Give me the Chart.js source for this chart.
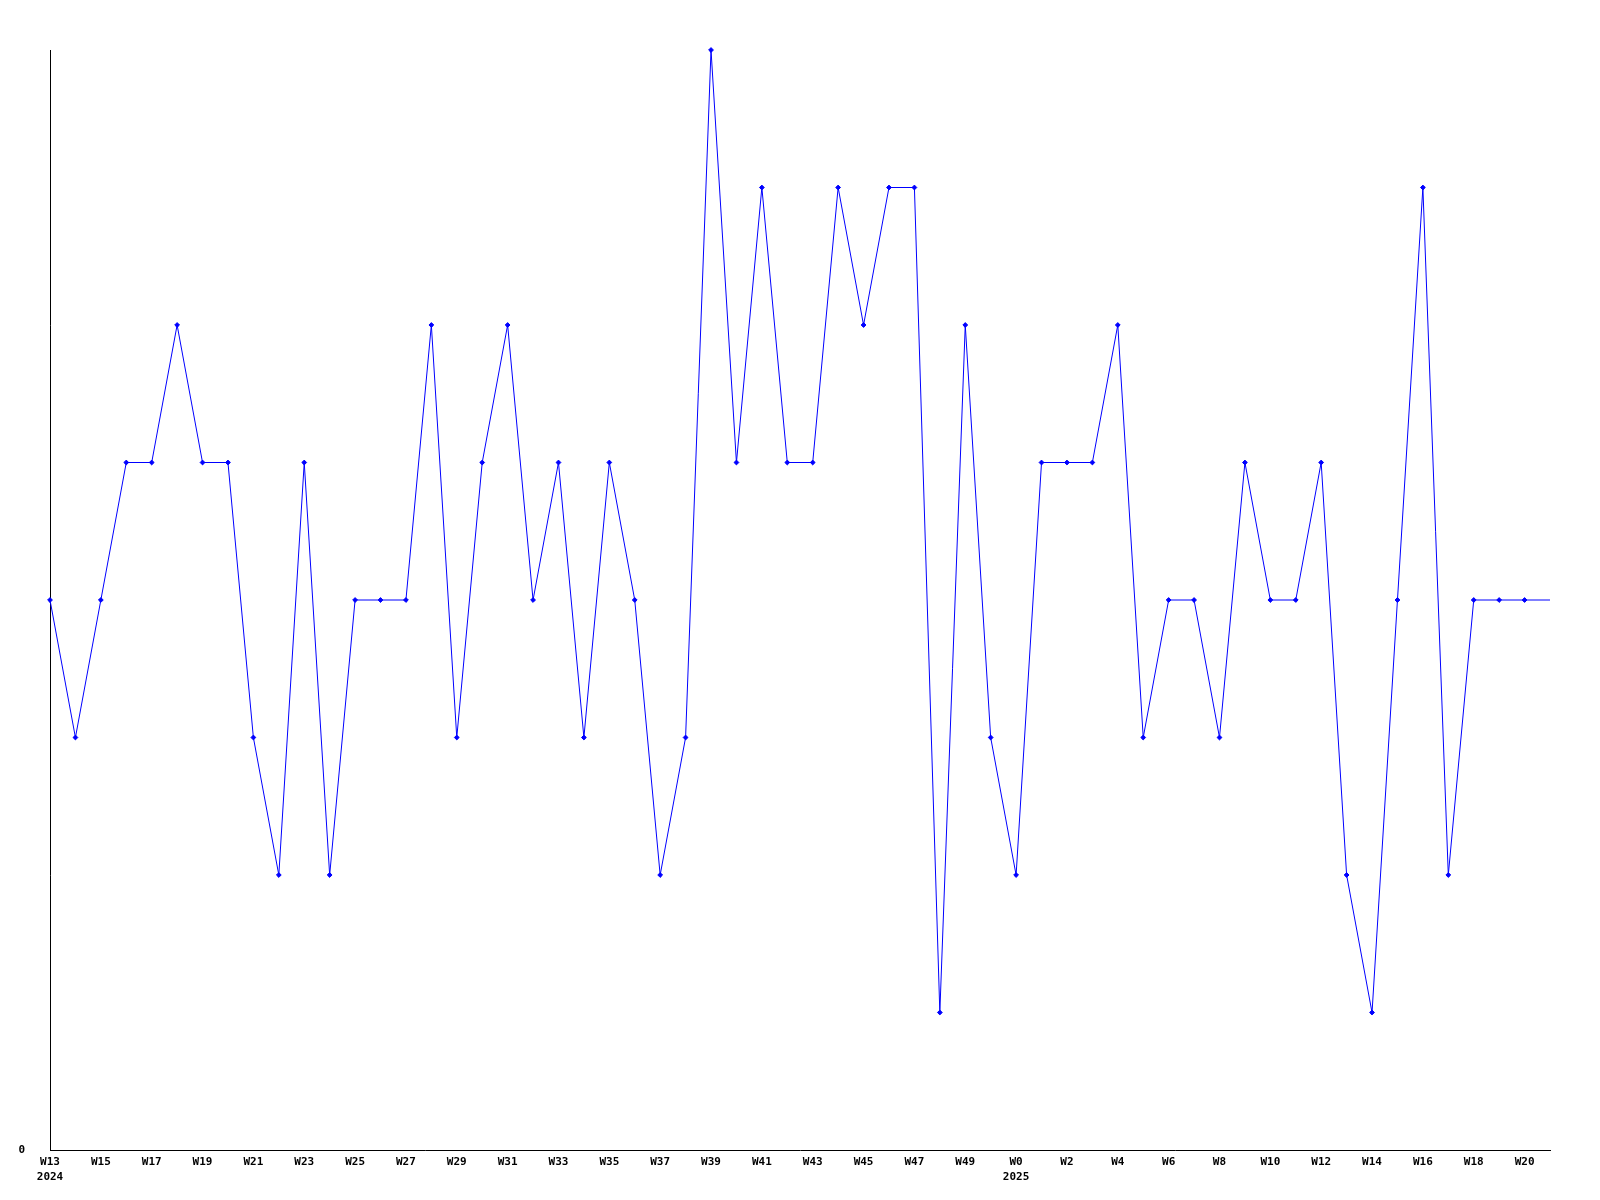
<!DOCTYPE html>
<html>
<head>
<meta charset="utf-8">
<script src="https://cdn.jsdelivr.net/npm/chart.js@4"></script>
<style>
  html, body { margin: 0; padding: 0; background: #fff; }
  #wrap { width: 1600px; height: 1200px; }
</style>
</head>
<body>
<div id="wrap"><canvas id="weekly"></canvas></div>
<script>
// weeks 2024 W13..W50, then 2025 W0..W21
const weeks = ['W13','W14','W15','W16','W17','W18','W19','W20','W21','W22','W23','W24','W25','W26','W27','W28','W29','W30','W31','W32','W33','W34','W35','W36','W37','W38','W39','W40','W41','W42','W43','W44','W45','W46','W47','W48','W49','W50',
  'W0','W1','W2','W3','W4','W5','W6','W7','W8','W9','W10','W11','W12','W13','W14','W15','W16','W17','W18','W19','W20','W21'];
const years = { 0: '2024', 38: '2025' };
const counts = [4,3,4,5,5,6,5,5,3,2,5,2,4,4,4,6,3,5,6,4,5,3,5,4,2,3,8,5,7,5,5,7,6,7,7,1,6,3,2,
  5,5,5,6,3,4,4,3,5,4,4,5,2,1,4,7,2,4,4,4,4];
const yTicks = [0];

const ctx = document.getElementById('weekly').getContext('2d');
const monoFont = { family: '"DejaVu Sans Mono", monospace', size: 11, weight: 'bold', lineHeight: 1.36 };

new Chart(ctx, {
  type: 'line',
  data: {
    labels: weeks,
    datasets: [{
      data: counts,
      borderColor: '#0000ff',
      backgroundColor: '#0000ff',
      borderWidth: 1,
      tension: 0,
      clip: false,
      pointStyle: 'rectRot',
      pointRadius: c => (c.dataIndex === counts.length - 1 ? 0 : 2.4),
      pointBorderWidth: 1
    }]
  },
  options: {
    responsive: true,
    maintainAspectRatio: false,
    animation: false,
    layout: { padding: { left: 0, top: 50, right: 50, bottom: 0 } },
    plugins: { legend: { display: false }, tooltip: { enabled: false } },
    scales: {
      x: {
        type: 'category',
        offset: false,
        grid: { display: false, drawTicks: false },
        border: { display: true, color: '#000', width: 1 },
        afterFit: s => { s.height = 50; },
        ticks: {
          autoSkip: false,
          maxRotation: 0,
          padding: 5,
          color: '#000',
          font: monoFont,
          callback: (v, i) => {
            if (i % 2 !== 0) return '';
            return years[i] ? [weeks[i], years[i]] : weeks[i];
          }
        }
      },
      y: {
        min: 0,
        max: 8,
        grid: { display: false, drawTicks: false },
        border: { display: true, color: '#000', width: 1 },
        afterFit: s => { s.width = 50; },
        afterBuildTicks: s => { s.ticks = yTicks.map(v => ({ value: v })); },
        ticks: { padding: 25, color: '#000', font: monoFont }
      }
    }
  }
});
</script>
</body>
</html>
